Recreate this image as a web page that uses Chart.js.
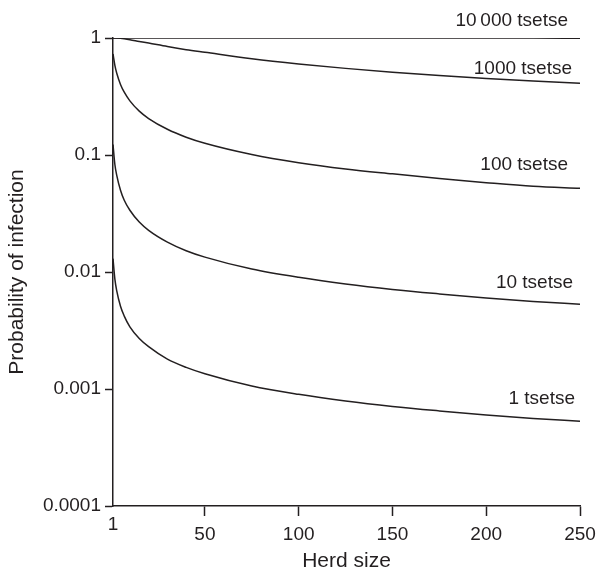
<!DOCTYPE html>
<html>
<head>
<meta charset="utf-8">
<script src="https://cdn.jsdelivr.net/npm/chart.js@4/dist/chart.umd.min.js"></script>
<style>
  html, body { margin: 0; padding: 0; background: #fff; }
  #wrap { width: 597px; height: 572px; }
</style>
</head>
<body>
<div id="wrap"><canvas id="c" width="597" height="572"></canvas></div>
<script>
// Herd sizes (x)
const herdSize = [1, 2, 3, 5, 7, 10, 15, 20, 30, 40, 50, 75, 100, 125, 150, 175, 200, 225, 250];
// Probability of infection for each tsetse count
const tsetse1     = [0.0130, 0.0087, 0.0069, 0.0051, 0.0042, 0.0034, 0.0027, 0.0023, 0.0018, 0.00153, 0.00135, 0.00106, 0.00090, 0.00079, 0.00071, 0.00065, 0.00060, 0.00056, 0.00053];
const tsetse10    = [0.123, 0.083, 0.067, 0.050, 0.041, 0.0337, 0.0267, 0.0227, 0.0180, 0.0152, 0.0134, 0.0106, 0.0090, 0.0079, 0.0071, 0.0065, 0.0060, 0.0056, 0.0053];
const tsetse100   = [0.73, 0.583, 0.499, 0.401, 0.344, 0.290, 0.237, 0.205, 0.166, 0.142, 0.126, 0.101, 0.086, 0.076, 0.069, 0.063, 0.058, 0.054, 0.052];
const tsetse1000  = [1.0, 1.0, 0.999, 0.994, 0.985, 0.968, 0.935, 0.905, 0.845, 0.795, 0.755, 0.665, 0.600, 0.550, 0.510, 0.478, 0.451, 0.429, 0.411];
const tsetse10000 = [1, 1, 1, 1, 1, 1, 1, 1, 1, 1, 1, 1, 1, 1, 1, 1, 1, 1, 0.995];
const seriesLabels = ['1 tsetse', '10 tsetse', '100 tsetse', '1000 tsetse', '10\u2009000 tsetse'];
const xTicks = [1, 50, 100, 150, 200, 250];
const yTicks = [0.0001, 0.001, 0.01, 0.1, 1];
const xTitle = 'Herd size';
const yTitle = 'Probability of infection';

const allSeries = [tsetse1, tsetse10, tsetse100, tsetse1000, tsetse10000];
const INK = '#231f20';
const FONT = "'Liberation Sans', Arial, Helvetica, sans-serif";

const datasets = allSeries.map((vals, i) => ({
  label: seriesLabels[i],
  data: herdSize.map((x, k) => ({ x: x, y: vals[k] })),
  borderColor: INK,
  borderWidth: 1.5,
  pointRadius: 0,
  showLine: true,
  fill: false,
  cubicInterpolationMode: 'monotone'
}));

// label placement style: offset (px) of text baseline above curve end, and right-edge shift
const labelStyle = [
  { dy: -17, dx: -5 },
  { dy: -16, dx: -7 },
  { dy: -18, dx: -12 },
  { dy: -9,  dx: -8 },
  { dy: -12, dx: -12 }
];

const seriesLabelPlugin = {
  id: 'seriesLabels',
  afterDatasetsDraw(chart) {
    const ctx = chart.ctx;
    const xs = chart.scales.x, ys = chart.scales.y;
    ctx.save();
    ctx.font = '19px ' + FONT;
    ctx.fillStyle = INK;
    ctx.textAlign = 'right';
    ctx.textBaseline = 'alphabetic';
    allSeries.forEach((vals, i) => {
      const last = vals.length - 1;
      const px = xs.getPixelForValue(herdSize[last]) + labelStyle[i].dx;
      const py = ys.getPixelForValue(vals[last]) + labelStyle[i].dy;
      ctx.fillText(seriesLabels[i], px, py);
    });
    // the first x tick label sits higher than the others in the original
    ctx.textAlign = 'center';
    ctx.textBaseline = 'middle';
    ctx.fillText(String(xTicks[0]), xs.getPixelForValue(xTicks[0]), chart.chartArea.bottom + 19);
    ctx.restore();
  }
};

new Chart(document.getElementById('c'), {
  type: 'scatter',
  data: { datasets },
  options: {
    responsive: false,
    animation: false,
    devicePixelRatio: 1,
    layout: { padding: { left: 0, right: 17, top: 38, bottom: 0 } },
    plugins: { legend: { display: false }, tooltip: { enabled: false } },
    scales: {
      x: {
        type: 'linear',
        min: 1, max: 250,
        afterBuildTicks: (s) => { s.ticks = xTicks.map(v => ({ value: v })); },
        afterFit: (s) => { s.height = 66; s.paddingRight = 0; s.paddingLeft = 0; },
        grid: {
          drawOnChartArea: false,
          drawTicks: true,
          tickLength: 10,
          tickWidth: 1.5,
          color: (c) => (c.tick && c.tick.value === 1) ? 'rgba(0,0,0,0)' : INK
        },
        border: { display: true, color: INK, width: 1.5 },
        ticks: {
          color: (c) => (c.tick && c.tick.value === 1) ? 'rgba(0,0,0,0)' : INK,
          font: { family: FONT, size: 19 },
          padding: 7,
          maxRotation: 0,
          autoSkip: false,
          callback: (v) => String(v)
        },
        title: {
          display: true,
          text: xTitle,
          color: INK,
          font: { family: FONT, size: 21 },
          padding: { top: 0, bottom: -2 }
        }
      },
      y: {
        type: 'logarithmic',
        min: 0.0001, max: 1,
        afterBuildTicks: (s) => { s.ticks = yTicks.map(v => ({ value: v })); },
        afterFit: (s) => { s.width = 113; s.paddingTop = 0; s.paddingBottom = 0; },
        grid: {
          drawOnChartArea: false,
          drawTicks: true,
          tickLength: 8,
          tickWidth: 1.5,
          color: INK
        },
        border: { display: true, color: INK, width: 1.5 },
        ticks: {
          color: INK,
          font: { family: FONT, size: 19 },
          padding: 4,
          autoSkip: false,
          callback: (v) => String(v)
        },
        title: {
          display: true,
          text: yTitle,
          color: INK,
          font: { family: FONT, size: 21 },
          padding: { top: 5, bottom: 0 }
        }
      }
    }
  },
  plugins: [seriesLabelPlugin]
});
</script>
</body>
</html>
